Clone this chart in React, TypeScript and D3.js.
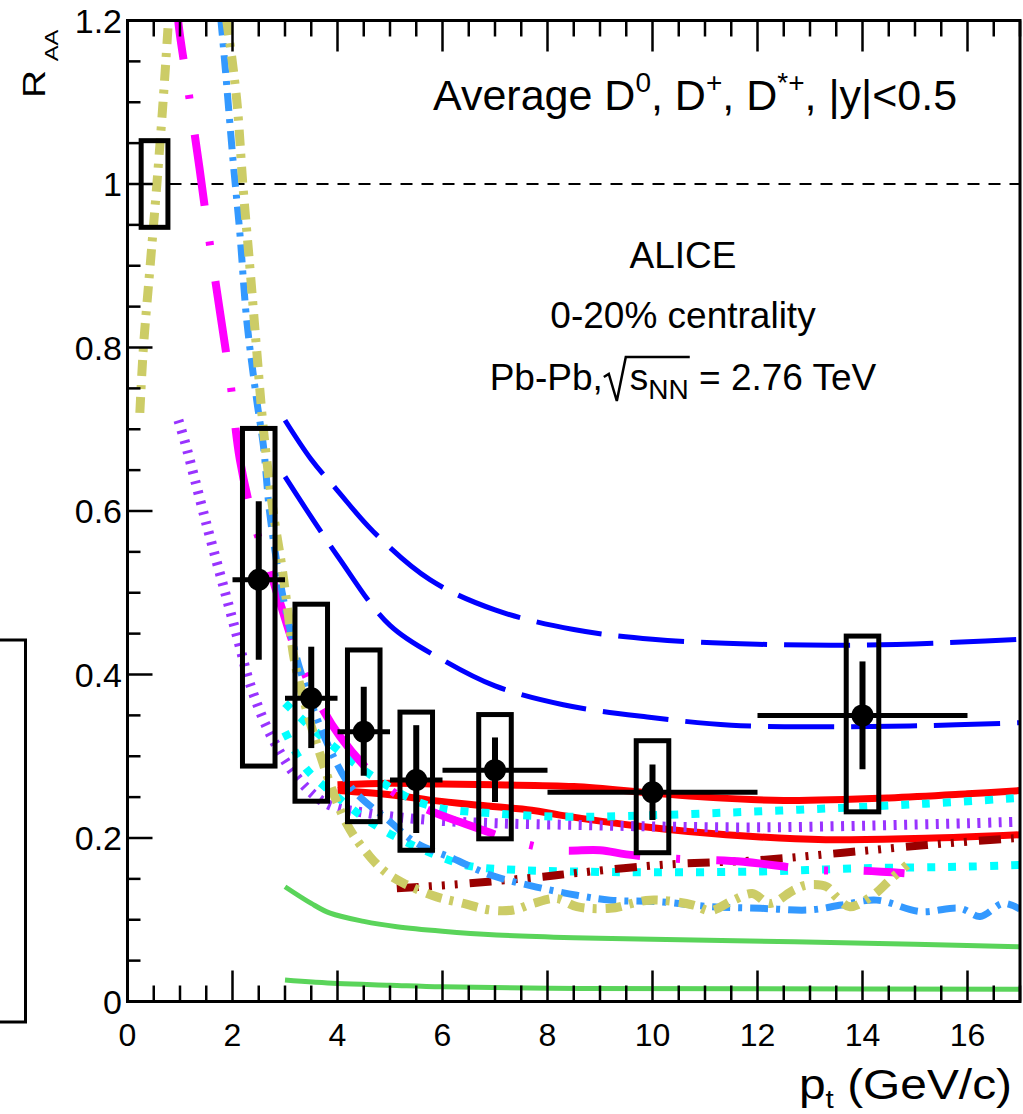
import React, { useEffect, useRef } from 'react';
import * as d3 from 'd3';

const W = 1023;
const H = 1114;
const FONT = '"Liberation Sans", Arial, Helvetica, sans-serif';

// Axis definitions
const xDomain = [0, 17];
const yDomain = [0, 1.2];
const xMajorTicks = [0, 2, 4, 6, 8, 10, 12, 14, 16];
const xTickLabels = ['0', '2', '4', '6', '8', '10', '12', '14', '16'];
const yMajorTicks = [0, 0.2, 0.4, 0.6, 0.8, 1.0, 1.2];
const yTickLabels = ['0', '0.2', '0.4', '0.6', '0.8', '1', '1.2'];

// ALICE data: average D0, D+, D*+
const ptCenter = [2.5, 3.5, 4.5, 5.5, 7, 10, 14];
const ptLow = [2, 3, 4, 5, 6, 8, 12];
const ptHigh = [3, 4, 5, 6, 8, 12, 16];
const raa = [0.516, 0.371, 0.33, 0.271, 0.283, 0.256, 0.35];
const statLow = [0.418, 0.31, 0.276, 0.206, 0.244, 0.222, 0.284];
const statHigh = [0.612, 0.434, 0.385, 0.338, 0.323, 0.29, 0.416];
const sysLow = [0.288, 0.245, 0.22, 0.185, 0.199, 0.182, 0.232];
const sysHigh = [0.701, 0.486, 0.43, 0.354, 0.351, 0.319, 0.447];
const sysHalfWidth = 0.31;
const normBoxX = [0.26, 0.77];
const normBoxY = [0.947, 1.053];

// Model curves
const blueDashUpX = [3, 3.5, 4, 4.68, 5.76, 7, 8.5, 10, 12, 14, 16, 17];
const blueDashUpY = [0.711, 0.663, 0.625, 0.575, 0.516, 0.479, 0.455, 0.443, 0.437, 0.436, 0.44, 0.443];
const blueDashLoX = [3, 4, 5, 6, 7, 8.3, 9.9, 11.5, 13.2, 14.9, 17];
const blueDashLoY = [0.642, 0.545, 0.46, 0.418, 0.386, 0.363, 0.348, 0.338, 0.336, 0.337, 0.341];

const redUpX = [4, 5, 6, 7, 8.5, 10, 11, 12.5, 14.5, 16, 17];
const redUpY = [0.265, 0.267, 0.266, 0.265, 0.263, 0.255, 0.25, 0.246, 0.249, 0.254, 0.258];
const redLoX = [4, 5, 5.8, 6.7, 7.7, 8.24, 9.8, 11.4, 13.3, 15.2, 17];
const redLoY = [0.258, 0.253, 0.246, 0.24, 0.234, 0.228, 0.214, 0.204, 0.198, 0.1996, 0.204];

const cyanUpX = [3, 3.5, 4, 4.5, 5, 5.5, 6, 7, 8.24, 9.5, 11.4, 13.3, 15.2, 17];
const cyanUpY = [0.365, 0.335, 0.308, 0.283, 0.262, 0.245, 0.236, 0.23, 0.226, 0.227, 0.231, 0.236, 0.242, 0.249];
const cyanLoX = [3, 3.4, 4, 4.5, 5, 5.8, 6.5, 7.4, 8.5, 10, 12, 14, 16, 17];
const cyanLoY = [0.33, 0.285, 0.25, 0.225, 0.205, 0.181, 0.166, 0.161, 0.159, 0.158, 0.159, 0.163, 0.165, 0.167];

const purpleX = [0.97, 1.1, 1.5, 1.95, 2.14, 2.33, 2.71, 3.22, 3.79, 4.62, 5.76, 7.03, 8.56, 10.1, 12, 14, 16, 17];
const purpleY = [0.711, 0.683, 0.585, 0.479, 0.434, 0.389, 0.328, 0.275, 0.242, 0.23, 0.222, 0.218, 0.216, 0.214, 0.213, 0.215, 0.218, 0.22];

const magentaX = [0.94, 0.966, 1.157, 1.37, 1.55, 1.77, 1.96, 2.14, 2.43, 2.68, 2.9, 3.35, 4.05, 5, 5.7, 6.4, 7.54, 8.24, 9, 9.5, 10.33, 11.73, 13.06, 14, 14.8];
const magentaY = [1.24, 1.2, 1.115, 1.02, 0.935, 0.84, 0.757, 0.663, 0.581, 0.534, 0.489, 0.405, 0.324, 0.259, 0.235, 0.218, 0.1935, 0.185, 0.185, 0.18, 0.175, 0.171, 0.161, 0.16, 0.157];

const darkRedX = [5.13, 6, 6.52, 7.92, 8.24, 10.14, 12.05, 13.63, 15.22, 16.87, 17];
const darkRedY = [0.1385, 0.142, 0.1446, 0.1527, 0.155, 0.167, 0.173, 0.182, 0.1914, 0.1996, 0.2];

const skyX = [1.7, 1.78, 1.86, 2.01, 2.14, 2.27, 2.46, 2.59, 2.71, 2.9, 3.1, 3.29, 3.86, 4.3, 5.0, 5.51, 6.2, 6.9, 7.79, 8.56, 9.19, 10.14, 11.1, 12.05, 13, 13.6, 14.27, 15.1, 15.86, 16.24, 16.68, 17];
const skyY = [1.25, 1.2, 1.143, 1.029, 0.94, 0.834, 0.736, 0.679, 0.597, 0.516, 0.454, 0.405, 0.308, 0.259, 0.22, 0.1935, 0.175, 0.155, 0.14, 0.13, 0.124, 0.122, 0.116, 0.114, 0.112, 0.118, 0.124, 0.11, 0.114, 0.104, 0.12, 0.113];

const oliveX = [0.235, 0.3, 0.43, 0.556, 0.68, 0.78, 0.95, 1.2, 1.45, 1.7, 1.89, 2.08, 2.2, 2.33, 2.46, 2.59, 2.78, 2.94, 3.06, 3.19, 3.6, 4.17, 4.62, 4.94, 5.25, 5.89, 6.4, 6.9, 7.35, 7.73, 8.17, 8.56, 9.19, 9.95, 10.78, 11.1, 11.54, 11.9, 12.24, 12.68, 12.94, 13.32, 13.5, 13.76, 14.2, 14.52, 14.85];
const oliveY = [0.72, 0.797, 0.899, 0.997, 1.103, 1.2, 1.38, 1.5, 1.42, 1.28, 1.2, 1.103, 0.997, 0.899, 0.797, 0.699, 0.597, 0.532, 0.475, 0.414, 0.316, 0.218, 0.177, 0.157, 0.145, 0.128, 0.12, 0.112, 0.112, 0.12, 0.126, 0.116, 0.114, 0.124, 0.118, 0.111, 0.124, 0.132, 0.12, 0.136, 0.1425, 0.1404, 0.128, 0.116, 0.13, 0.1486, 0.167];

const greenUpX = [3, 3.5, 3.86, 4.5, 5.13, 6, 7.03, 8.5, 10, 12.7, 15, 17];
const greenUpY = [0.1404, 0.12, 0.108, 0.098, 0.0915, 0.086, 0.0814, 0.078, 0.076, 0.073, 0.07, 0.067];
const greenLoX = [3, 4, 5, 6, 8.6, 12, 17];
const greenLoY = [0.0263, 0.022, 0.02, 0.018, 0.016, 0.0155, 0.015];

type Style = { color: string; width: number; dash?: string };
const curves: { xs: number[]; ys: number[]; style: Style }[] = [
  { xs: greenUpX, ys: greenUpY, style: { color: '#5ad45a', width: 5 } },
  { xs: greenLoX, ys: greenLoY, style: { color: '#5ad45a', width: 5 } },
  { xs: blueDashUpX, ys: blueDashUpY, style: { color: '#0000ff', width: 5, dash: '66 17' } },
  { xs: blueDashLoX, ys: blueDashLoY, style: { color: '#0000ff', width: 5, dash: '66 17' } },
  { xs: redUpX, ys: redUpY, style: { color: '#ff0000', width: 7 } },
  { xs: redLoX, ys: redLoY, style: { color: '#ff0000', width: 7 } },
  { xs: purpleX, ys: purpleY, style: { color: '#9933ff', width: 10, dash: '3 7.5' } },
  { xs: cyanUpX, ys: cyanUpY, style: { color: '#00ffff', width: 8, dash: '8 13' } },
  { xs: cyanLoX, ys: cyanLoY, style: { color: '#00ffff', width: 8, dash: '8 13' } },
  { xs: darkRedX, ys: darkRedY, style: { color: '#990000', width: 8, dash: '22 10 3 10 3 10 3 12' } },
  { xs: magentaX, ys: magentaY, style: { color: '#ff00ff', width: 8, dash: '72 36 4 36' } },
  { xs: skyX, ys: skyY, style: { color: '#3399ff', width: 7, dash: '18 8 4 8' } },
  { xs: oliveX, ys: oliveY, style: { color: '#cccc66', width: 9, dash: '16 8 4 9' } },
];

export default function App() {
  const ref = useRef<SVGSVGElement | null>(null);

  useEffect(() => {
    const svg = d3.select(ref.current as SVGSVGElement);
    svg.selectAll('*').remove();

    const x = d3.scaleLinear().domain(xDomain).range([127.5, 1020]);
    const y = d3.scaleLinear().domain(yDomain).range([1001.5, 20.5]);

    svg.append('rect').attr('width', W).attr('height', H).attr('fill', 'white');

    const defs = svg.append('defs');
    defs
      .append('clipPath')
      .attr('id', 'plotclip')
      .append('rect')
      .attr('x', x(xDomain[0]))
      .attr('y', y(yDomain[1]))
      .attr('width', x(xDomain[1]) - x(xDomain[0]))
      .attr('height', y(yDomain[0]) - y(yDomain[1]));

    const plot = svg.append('g').attr('clip-path', 'url(#plotclip)');

    // reference line at 1
    plot
      .append('line')
      .attr('x1', x(0))
      .attr('x2', x(17))
      .attr('y1', y(1))
      .attr('y2', y(1))
      .attr('stroke', '#000')
      .attr('stroke-width', 2)
      .attr('stroke-dasharray', '12 9');

    const line = d3
      .line<[number, number]>()
      .x((d) => x(d[0]))
      .y((d) => y(d[1]))
      .curve(d3.curveCatmullRom.alpha(0.5));

    curves.forEach((c) => {
      const pts = c.xs.map((v, i) => [v, c.ys[i]] as [number, number]);
      plot
        .append('path')
        .attr('d', line(pts) as string)
        .attr('fill', 'none')
        .attr('stroke', c.style.color)
        .attr('stroke-width', c.style.width)
        .attr('stroke-dasharray', c.style.dash || null)
        .attr('stroke-linecap', 'butt')
        .attr('stroke-linejoin', 'round');
    });

    // normalisation box
    plot
      .append('rect')
      .attr('x', x(normBoxX[0]))
      .attr('y', y(normBoxY[1]))
      .attr('width', x(normBoxX[1]) - x(normBoxX[0]))
      .attr('height', y(normBoxY[0]) - y(normBoxY[1]))
      .attr('fill', 'none')
      .attr('stroke', '#000')
      .attr('stroke-width', 5);

    // data
    const g = plot.append('g');
    ptCenter.forEach((pt, i) => {
      g.append('rect')
        .attr('x', x(pt - sysHalfWidth))
        .attr('y', y(sysHigh[i]))
        .attr('width', x(pt + sysHalfWidth) - x(pt - sysHalfWidth))
        .attr('height', y(sysLow[i]) - y(sysHigh[i]))
        .attr('fill', 'none')
        .attr('stroke', '#000')
        .attr('stroke-width', 5);
      g.append('line')
        .attr('x1', x(ptLow[i]))
        .attr('x2', x(ptHigh[i]))
        .attr('y1', y(raa[i]))
        .attr('y2', y(raa[i]))
        .attr('stroke', '#000')
        .attr('stroke-width', 5);
      g.append('line')
        .attr('x1', x(pt))
        .attr('x2', x(pt))
        .attr('y1', y(statLow[i]))
        .attr('y2', y(statHigh[i]))
        .attr('stroke', '#000')
        .attr('stroke-width', 6);
      g.append('circle')
        .attr('cx', x(pt))
        .attr('cy', y(raa[i]))
        .attr('r', 11)
        .attr('fill', '#000');
    });

    // frame
    svg
      .append('rect')
      .attr('x', x(0))
      .attr('y', y(1.2))
      .attr('width', x(17) - x(0))
      .attr('height', y(0) - y(1.2))
      .attr('fill', 'none')
      .attr('stroke', '#000')
      .attr('stroke-width', 3);

    // ticks
    const tickG = svg.append('g').attr('stroke', '#000').attr('stroke-width', 2.5);
    const xMinor = d3.range(0, 17.001, 0.5).filter((v) => Math.abs(v / 2 - Math.round(v / 2)) > 1e-6);
    const yMinor = d3.range(0, 1.2001, 0.05).filter((v) => Math.abs(v / 0.2 - Math.round(v / 0.2)) > 1e-6);
    xMajorTicks.forEach((v) => {
      tickG.append('line').attr('x1', x(v)).attr('x2', x(v)).attr('y1', y(0)).attr('y2', y(0) - 31);
      tickG.append('line').attr('x1', x(v)).attr('x2', x(v)).attr('y1', y(1.2)).attr('y2', y(1.2) + 31);
    });
    xMinor.forEach((v) => {
      tickG.append('line').attr('x1', x(v)).attr('x2', x(v)).attr('y1', y(0)).attr('y2', y(0) - 16);
      tickG.append('line').attr('x1', x(v)).attr('x2', x(v)).attr('y1', y(1.2)).attr('y2', y(1.2) + 16);
    });
    yMajorTicks.forEach((v) => {
      tickG.append('line').attr('x1', x(0)).attr('x2', x(0) + 25).attr('y1', y(v)).attr('y2', y(v));
    });
    yMinor.forEach((v) => {
      tickG.append('line').attr('x1', x(0)).attr('x2', x(0) + 13).attr('y1', y(v)).attr('y2', y(v));
    });

    // tick labels
    const lab = svg.append('g').attr('font-family', FONT).attr('fill', '#000');
    xMajorTicks.forEach((v, i) => {
      lab
        .append('text')
        .attr('x', x(v))
        .attr('y', 1046)
        .attr('font-size', 32)
        .attr('text-anchor', 'middle')
        .text(xTickLabels[i]);
    });
    yMajorTicks.forEach((v, i) => {
      lab
        .append('text')
        .attr('x', 122)
        .attr('y', y(v) + 12)
        .attr('font-size', 34)
        .attr('text-anchor', 'end')
        .text(yTickLabels[i]);
    });

    // axis titles
    const yt = lab
      .append('text')
      .attr('transform', 'translate(45,98) rotate(-90) scale(1.25,1)')
      .attr('font-size', 31);
    yt.append('tspan').text('R');
    yt.append('tspan').attr('font-size', 19).attr('dx', 7).attr('dy', 13).text('AA');

    const xt = lab
      .append('text')
      .attr('transform', 'translate(1012,1099) scale(1.14,1)')
      .attr('font-size', 42)
      .attr('text-anchor', 'end');
    xt.append('tspan').text('p');
    xt.append('tspan').attr('font-size', 26).attr('dy', 9).text('t');
    xt.append('tspan').attr('dy', -9).text(' (GeV/c)');

    // header
    const hd = lab.append('text').attr('x', 433).attr('y', 110).attr('font-size', 43);
    hd.append('tspan').text('Average D');
    hd.append('tspan').attr('font-size', 28).attr('dy', -18).text('0');
    hd.append('tspan').attr('dy', 18).text(', D');
    hd.append('tspan').attr('font-size', 28).attr('dy', -18).text('+');
    hd.append('tspan').attr('dy', 18).text(', D');
    hd.append('tspan').attr('font-size', 28).attr('dy', -18).text('*+');
    hd.append('tspan').attr('dy', 18).text(', |y|<0.5');

    lab.append('text').attr('x', 683).attr('y', 268).attr('font-size', 37).attr('text-anchor', 'middle').text('ALICE');
    lab
      .append('text')
      .attr('x', 683)
      .attr('y', 328)
      .attr('font-size', 37)
      .attr('text-anchor', 'middle')
      .text('0-20% centrality');

    const pb = lab.append('text').attr('x', 683).attr('y', 390).attr('font-size', 37).attr('text-anchor', 'middle');
    pb.append('tspan').text('Pb-Pb,');
    pb.append('tspan').attr('dx', 27).text('s');
    pb.append('tspan').attr('font-size', 28).attr('dy', 9).text('NN');
    pb.append('tspan').attr('dy', -9).text(' = 2.76 TeV');
    const node = pb.node() as SVGTextElement;
    try {
      const sStart = node.getStartPositionOfChar(6).x;
      const nnEnd = node.getEndPositionOfChar(8).x;
      const by = 390;
      const rad = `M${sStart - 26},${by - 13} L${sStart - 21},${by - 16} L${sStart - 13},${by + 11} L${sStart - 4},${by - 33} L${nnEnd + 1},${by - 33}`;
      lab
        .append('path')
        .attr('d', rad)
        .attr('fill', 'none')
        .attr('stroke', '#000')
        .attr('stroke-width', 2.5)
        .attr('stroke-linejoin', 'miter');
    } catch (e) {
      // ignore
    }

    // partially visible legend frame at the left edge
    svg
      .append('rect')
      .attr('x', -20)
      .attr('y', 640)
      .attr('width', 45.5)
      .attr('height', 382)
      .attr('fill', 'none')
      .attr('stroke', '#000')
      .attr('stroke-width', 3);
  }, []);

  return (
    <svg
      ref={ref}
      width={W}
      height={H}
      viewBox={`0 0 ${W} ${H}`}
      style={{ position: 'absolute', left: 0, top: 0, display: 'block' }}
    />
  );
}
